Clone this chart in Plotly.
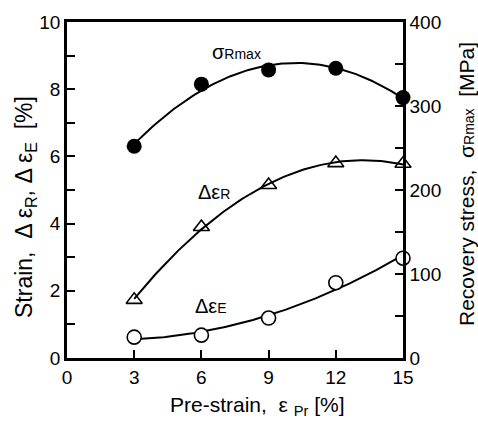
import numpy as np
import plotly.graph_objects as go

# Data
pre_strain = [3, 6, 9, 12, 15]
sigma_rmax = [252, 326, 343, 345, 310]          # MPa (right axis)
d_eps_r = [1.73, 3.9, 5.15, 5.8, 5.78]          # % (left axis)
d_eps_e = [0.62, 0.68, 1.19, 2.24, 2.97]        # % (left axis)

FONT = "Liberation Sans, Arial, sans-serif"

fig = go.Figure()


def trend(xv, yv, deg=2, n=121):
    # least-squares trend curve through the measured points (as in the original figure)
    c = np.polyfit(xv, yv, deg)
    xs = np.linspace(min(xv), max(xv), n)
    return xs, np.polyval(c, xs)


series = [
    (d_eps_r, "y", dict(symbol="triangle-up-open", size=14, color="black", line=dict(width=1.6, color="black"))),
    (d_eps_e, "y", dict(symbol="circle", size=14, color="white", line=dict(width=1.6, color="black"))),
    (sigma_rmax, "y2", dict(symbol="circle", size=15, color="black", line=dict(width=0))),
]
for vals, ax, mk in series:
    xs, ys = trend(pre_strain, vals)
    fig.add_trace(go.Scatter(x=xs, y=ys, mode="lines", line=dict(color="black", width=2),
                             yaxis=ax, showlegend=False, hoverinfo="skip"))
    fig.add_trace(go.Scatter(x=pre_strain, y=vals, mode="markers", marker=mk,
                             yaxis=ax, showlegend=False, cliponaxis=False))

axis_common = dict(
    showline=True, linecolor="black", linewidth=2.5,
    ticks="inside", ticklen=8, tickwidth=1.5, tickcolor="black",
    showgrid=False, zeroline=False,
    tickfont=dict(family=FONT, size=19, color="black"),
)

fig.update_layout(
    width=478, height=423,
    margin=dict(l=67, r=75, t=22, b=65),
    paper_bgcolor="white", plot_bgcolor="white",
    xaxis=dict(range=[0, 15], tickvals=[0, 3, 6, 9, 12, 15], mirror=True, **axis_common),
    yaxis=dict(range=[0, 10], tickvals=[0, 2, 4, 6, 8, 10],
               minor=dict(dtick=1, ticks="inside", ticklen=8, tickcolor="black", tickwidth=1.5),
               **axis_common),
    yaxis2=dict(range=[0, 400], tickvals=[0, 100, 200, 300, 400], overlaying="y", side="right",
                minor=dict(dtick=50, ticks="inside", ticklen=8, tickcolor="black", tickwidth=1.5),
                **axis_common),
    font=dict(family=FONT, color="black"),
)

annos = [
    dict(text="Pre-strain,  ε <sub>Pr</sub> [%]", x=257, y=406, size=21, angle=0),
    dict(text="Strain,  Δ ε<sub>R</sub>, Δ ε<sub>E</sub>  [%]", x=25, y=207, size=23, angle=-90),
    dict(text="Recovery stress,  σ<span style='font-size:14px'>Rmax</span>  [MPa]", x=467, y=184, size=21, angle=-90),
    dict(text="σ<span style='font-size:14px'>Rmax</span>", x=236, y=52, size=20, angle=0),
    dict(text="Δε<span style='font-size:14px'>R</span>", x=214, y=192, size=20, angle=0),
    dict(text="Δε<span style='font-size:14px'>E</span>", x=211, y=306, size=20, angle=0),
]
for a in annos:
    fig.add_annotation(
        text=a["text"], xref="paper", yref="paper",
        x=(a["x"] - 67) / (478 - 67 - 75), y=(423 - 65 - a["y"]) / (423 - 22 - 65),
        xanchor="center", yanchor="middle", showarrow=False, textangle=a["angle"],
        font=dict(family=FONT, size=a["size"], color="black"))

fig.write_html("out.html")
